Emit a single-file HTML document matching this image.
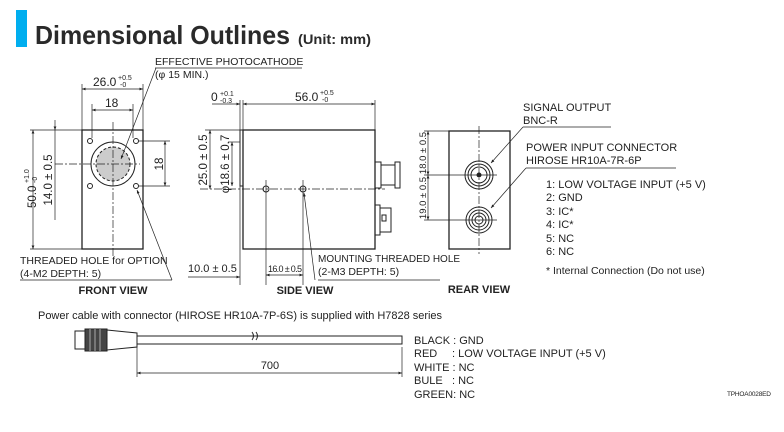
<!DOCTYPE html>
<html><head><style>
html,body{margin:0;padding:0;background:#fff;}
svg{display:block;font-family:"Liberation Sans",sans-serif;}
</style></head><body>
<svg width="784" height="432" viewBox="0 0 784 432" xmlns="http://www.w3.org/2000/svg">
<defs>
<marker id="a" viewBox="0 0 10 10" refX="10" refY="5" markerWidth="7" markerHeight="5" orient="auto-start-reverse"><path d="M0,1 L10,5 L0,9z" fill="#222"/></marker>
</defs>
<rect x="16" y="10" width="11" height="37" fill="#00aeef"/>
<text x="35" y="44" font-size="26" font-weight="bold" fill="#2a2a2a" textLength="255" lengthAdjust="spacingAndGlyphs">Dimensional Outlines</text>
<text x="298" y="44" font-size="14" font-weight="bold" fill="#2a2a2a" textLength="73" lengthAdjust="spacingAndGlyphs">(Unit: mm)</text>

<g stroke="#222" fill="none" stroke-width="1">
<rect x="82" y="130" width="61" height="119" stroke-width="1.3"/>
<circle cx="113" cy="164" r="22"/>
<circle cx="113" cy="164" r="17" fill="#ccc" stroke-dasharray="3,2"/>
<line x1="113" y1="122" x2="113" y2="256" stroke-dasharray="8,2,2,2" stroke-width="0.7"/>
<line x1="55" y1="164" x2="140" y2="164" stroke-dasharray="8,2,2,2" stroke-width="0.7"/>
<circle cx="90" cy="141" r="2.5"/><circle cx="136" cy="141" r="2.5"/>
<circle cx="90" cy="186" r="2.5"/><circle cx="136" cy="186" r="2.5"/>
<line x1="82" y1="84" x2="82" y2="130" stroke-width="0.7"/><line x1="143" y1="84" x2="143" y2="130" stroke-width="0.7"/>
<line x1="82" y1="89" x2="143" y2="89" marker-start="url(#a)" marker-end="url(#a)" stroke-width="0.7"/>
<line x1="92" y1="104" x2="92" y2="138" stroke-width="0.7"/><line x1="133" y1="104" x2="133" y2="138" stroke-width="0.7"/>
<line x1="92" y1="110" x2="133" y2="110" marker-start="url(#a)" marker-end="url(#a)" stroke-width="0.7"/>
<line x1="30" y1="130" x2="82" y2="130" stroke-width="0.7"/><line x1="30" y1="249" x2="82" y2="249" stroke-width="0.7"/>
<line x1="33" y1="130" x2="33" y2="249" marker-start="url(#a)" marker-end="url(#a)" stroke-width="0.7"/>
<line x1="55" y1="120" x2="55" y2="130" marker-end="url(#a)" stroke-width="0.7"/>
<line x1="55" y1="130" x2="55" y2="220" stroke-width="0.7"/>
<line x1="139" y1="141" x2="170" y2="141" stroke-width="0.7"/><line x1="139" y1="186" x2="170" y2="186" stroke-width="0.7"/>
<line x1="165" y1="141" x2="165" y2="186" marker-start="url(#a)" marker-end="url(#a)" stroke-width="0.7"/>
<line x1="155" y1="68" x2="302" y2="68" stroke-width="0.7"/>
<line x1="156" y1="68" x2="121" y2="159" marker-end="url(#a)" stroke-width="0.7"/>
<line x1="20" y1="280" x2="172" y2="280" stroke-width="0.7"/>
<line x1="172" y1="280" x2="137" y2="190" marker-end="url(#a)" stroke-width="0.7"/>

<rect x="243" y="130" width="132" height="119" stroke-width="1.3"/>
<rect x="240" y="130" width="3" height="56"/>
<line x1="200" y1="189" x2="385" y2="189" stroke-dasharray="8,2,2,2" stroke-width="0.7"/>
<circle cx="266" cy="189" r="3"/><circle cx="303" cy="189" r="3"/>
<line x1="266" y1="180" x2="266" y2="285" stroke-width="0.7"/><line x1="303" y1="180" x2="303" y2="285" stroke-width="0.7"/>
<line x1="240" y1="100" x2="240" y2="130" stroke-width="0.7"/><line x1="243" y1="100" x2="243" y2="130" stroke-width="0.7"/>
<line x1="375" y1="100" x2="375" y2="130" stroke-width="0.7"/>
<line x1="243" y1="104" x2="375" y2="104" marker-start="url(#a)" marker-end="url(#a)" stroke-width="0.7"/>
<line x1="212" y1="104" x2="240" y2="104" marker-end="url(#a)" stroke-width="0.7"/>
<line x1="205" y1="130" x2="240" y2="130" stroke-width="0.7"/>
<line x1="210" y1="130" x2="210" y2="189" marker-start="url(#a)" marker-end="url(#a)" stroke-width="0.7"/>
<line x1="228" y1="142" x2="240" y2="142" stroke-width="0.7"/>
<line x1="232" y1="142" x2="232" y2="186" marker-start="url(#a)" marker-end="url(#a)" stroke-width="0.7"/>
<line x1="240" y1="186" x2="240" y2="285" stroke-width="0.7"/>
<line x1="188" y1="277" x2="240" y2="277" marker-end="url(#a)" stroke-width="0.7"/>
<line x1="266" y1="275" x2="303" y2="275" marker-start="url(#a)" marker-end="url(#a)" stroke-width="0.7"/>
<rect x="375" y="162" width="6" height="26"/>
<rect x="381" y="165" width="14" height="20"/>
<rect x="395" y="162" width="5" height="26"/>
<rect x="375" y="205" width="5" height="30"/>
<rect x="380" y="208" width="11" height="24"/>
<rect x="382" y="215" width="4" height="6"/>
<line x1="318" y1="280" x2="440" y2="280" stroke-width="0.7"/>
<line x1="315" y1="280" x2="304" y2="193" marker-end="url(#a)" stroke-width="0.7"/>

<rect x="449" y="131" width="61" height="118" stroke-width="1.3"/>
<line x1="479" y1="126" x2="479" y2="254" stroke-dasharray="8,2,2,2" stroke-width="0.7"/>
<circle cx="479" cy="175" r="14"/><circle cx="479" cy="175" r="11"/><circle cx="479" cy="175" r="8"/><circle cx="479" cy="175" r="2" fill="#222"/>
<circle cx="479" cy="220" r="13"/><circle cx="479" cy="220" r="10"/><circle cx="479" cy="220" r="7"/><circle cx="479" cy="220" r="4"/>
<line x1="424" y1="131" x2="449" y2="131" stroke-width="0.7"/>
<line x1="424" y1="175" x2="497" y2="175" stroke-width="0.7"/>
<line x1="424" y1="220" x2="497" y2="220" stroke-width="0.7"/>
<line x1="428" y1="131" x2="428" y2="175" marker-start="url(#a)" marker-end="url(#a)" stroke-width="0.7"/>
<line x1="428" y1="175" x2="428" y2="220" marker-start="url(#a)" marker-end="url(#a)" stroke-width="0.7"/>
<line x1="523" y1="127" x2="611" y2="127" stroke-width="0.7"/>
<line x1="523" y1="127" x2="491" y2="163" marker-end="url(#a)" stroke-width="0.7"/>
<line x1="526" y1="168" x2="676" y2="168" stroke-width="0.7"/>
<line x1="526" y1="168" x2="491" y2="208" marker-end="url(#a)" stroke-width="0.7"/>

<rect x="75" y="331" width="10" height="18" />
<rect x="85" y="329" width="22" height="22" fill="#444"/>
<line x1="90" y1="329" x2="90" y2="351" stroke="#aaa"/><line x1="95" y1="329" x2="95" y2="351" stroke="#aaa"/><line x1="100" y1="329" x2="100" y2="351" stroke="#aaa"/>
<path d="M107,330 L137,333 L137,347 L107,350z"/>
<rect x="137" y="336" width="265" height="8"/>
<path d="M252,332 q3,4 0,8 M256,332 q3,4 0,8" />
<line x1="137" y1="347" x2="137" y2="377" stroke-width="0.7"/><line x1="402" y1="347" x2="402" y2="377" stroke-width="0.7"/>
<line x1="137" y1="373" x2="402" y2="373" marker-start="url(#a)" marker-end="url(#a)" stroke-width="0.7"/>
</g>

<g font-size="11" fill="#222">
<text x="93" y="86" font-size="12">26.0</text><text x="118" y="80" font-size="7">+0.5</text><text x="120" y="87" font-size="7">-0</text>
<text x="105" y="107" font-size="12">18</text>
<text x="155" y="65" font-size="10.5">EFFECTIVE PHOTOCATHODE</text>
<text x="155" y="78" font-size="10.5">(φ 15 MIN.)</text>
<text transform="translate(36,208) rotate(-90)" font-size="11.5">50.0</text>
<text transform="translate(29,183) rotate(-90)" font-size="7">+1.0</text>
<text transform="translate(37,183) rotate(-90)" font-size="7">-0</text>
<text transform="translate(52,180) rotate(-90)" font-size="11.5" text-anchor="middle">14.0 ± 0.5</text>
<text transform="translate(163,164) rotate(-90)" font-size="11.5" text-anchor="middle">18</text>
<text x="20" y="264" font-size="10.5">THREADED HOLE for OPTION</text>
<text x="20" y="277" font-size="10.5">(4-M2 DEPTH: 5)</text>
<text x="113" y="294" font-size="11" font-weight="bold" text-anchor="middle">FRONT VIEW</text>

<text x="211" y="101" font-size="12">0</text><text x="220" y="96" font-size="7">+0.1</text><text x="220" y="103" font-size="7">-0.3</text>
<text x="295" y="101" font-size="12">56.0</text><text x="320" y="95" font-size="7">+0.5</text><text x="322" y="102" font-size="7">-0</text>
<text transform="translate(207,160) rotate(-90)" font-size="11.5" text-anchor="middle">25.0 ± 0.5</text>
<text transform="translate(229,164) rotate(-90)" font-size="11.5" text-anchor="middle">φ18.6 ± 0.7</text>
<text x="188" y="272" font-size="11">10.0 ± 0.5</text>
<text x="268" y="272" font-size="9" textLength="34">16.0 ± 0.5</text>
<text x="318" y="262" font-size="10">MOUNTING THREADED HOLE</text>
<text x="318" y="275" font-size="10.5">(2-M3 DEPTH: 5)</text>
<text x="305" y="294" font-size="11" font-weight="bold" text-anchor="middle">SIDE VIEW</text>

<text transform="translate(426,153) rotate(-90)" font-size="9.5" text-anchor="middle">18.0 ± 0.5</text>
<text transform="translate(426,198) rotate(-90)" font-size="9.5" text-anchor="middle">19.0 ± 0.5</text>
<text x="523" y="111" font-size="11">SIGNAL OUTPUT</text>
<text x="523" y="124" font-size="11">BNC-R</text>
<text x="526" y="151" font-size="11">POWER INPUT CONNECTOR</text>
<text x="526" y="164" font-size="11">HIROSE HR10A-7R-6P</text>
<text x="546" y="188" font-size="11">1: LOW VOLTAGE INPUT (+5 V)</text>
<text x="546" y="201" font-size="11">2: GND</text>
<text x="546" y="215" font-size="11">3: IC*</text>
<text x="546" y="228" font-size="11">4: IC*</text>
<text x="546" y="242" font-size="11">5: NC</text>
<text x="546" y="255" font-size="11">6: NC</text>
<text x="546" y="274" font-size="10.5">* Internal Connection (Do not use)</text>
<text x="479" y="293" font-size="11" font-weight="bold" text-anchor="middle">REAR VIEW</text>

<text x="38" y="319" font-size="11" textLength="404">Power cable with connector (HIROSE HR10A-7P-6S) is supplied with H7828 series</text>
<text x="270" y="369" font-size="11" text-anchor="middle">700</text>
<text x="414" y="344" font-size="11">BLACK : GND</text>
<text x="414" y="357" font-size="11">RED</text><text x="452" y="357" font-size="11">: LOW VOLTAGE INPUT (+5 V)</text>
<text x="414" y="371" font-size="11">WHITE : NC</text>
<text x="414" y="384" font-size="11">BULE</text><text x="452" y="384" font-size="11">: NC</text>
<text x="414" y="398" font-size="11">GREEN: NC</text>
<text x="727" y="396" font-size="6.5" textLength="44">TPHOA0028ED</text>
</g>
</svg>
</body></html>
